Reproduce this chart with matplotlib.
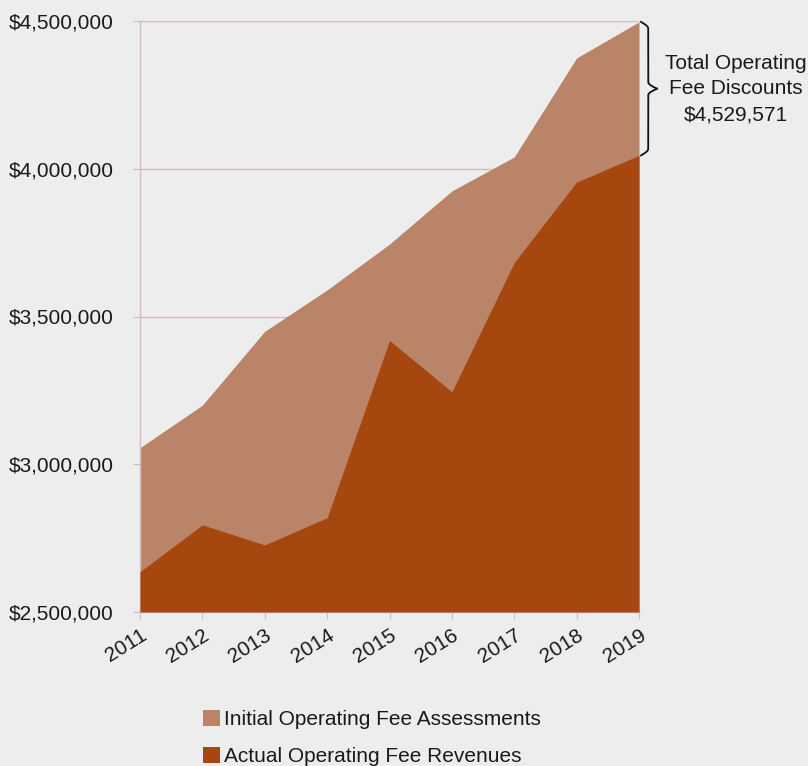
import matplotlib
matplotlib.use("Agg")
import matplotlib.pyplot as plt
import numpy as np
from matplotlib.patches import Patch

years = [2011, 2012, 2013, 2014, 2015, 2016, 2017, 2018, 2019]
initial = [3056000, 3200000, 3450000, 3590000, 3745000, 3925000, 4040000, 4375000, 4497000]
actual = [2636000, 2795000, 2727000, 2819000, 3419000, 3245000, 3683000, 3955000, 4045000]
ytick_vals = [2500000, 3000000, 3500000, 4000000, 4500000]
ytick_labels = ["$2,500,000", "$3,000,000", "$3,500,000", "$4,000,000", "$4,500,000"]
legend_labels = ["Initial Operating Fee Assessments", "Actual Operating Fee Revenues"]
annot_text = "Total Operating\nFee Discounts\n$4,529,571"

c_light = "#b98468"
c_dark = "#a6470f"
bg = "#ededed"
gridc = "#d2bdb8"

plt.rcParams['font.family'] = ['Liberation Sans', 'DejaVu Sans']

fig = plt.figure(figsize=(8.08, 7.66), dpi=100, facecolor=bg)
ax = fig.add_axes([140/808, 1-612/766, 499/808, 591/766])
ax.set_facecolor(bg)

ax.fill_between(years, ytick_vals[0], initial, color=c_light, linewidth=0, zorder=2)
ax.fill_between(years, ytick_vals[0], actual, color=c_dark, linewidth=0, zorder=3)

ax.set_xlim(years[0], years[-1])
ax.set_ylim(ytick_vals[0], ytick_vals[-1])
ax.set_yticks(ytick_vals)
ax.set_yticklabels(ytick_labels, fontsize=15, color="#1a1a1a")
ax.set_xticks(years)
ax.set_xticklabels([str(y) for y in years], rotation=32, ha="right", rotation_mode="anchor",
                   fontsize=15, color="#1a1a1a")
ax.yaxis.grid(True, color=gridc, linewidth=1, zorder=1)
ax.set_axisbelow(True)
for s in ["top", "right"]:
    ax.spines[s].set_visible(False)
for s in ["left", "bottom"]:
    ax.spines[s].set_color(gridc)
    ax.spines[s].set_linewidth(1)
ax.tick_params(axis="y", length=5, color=gridc, pad=14)
ax.tick_params(axis="x", length=5, color=gridc, pad=5)

# curly brace spanning the 2019 gap
trans = ax.transData
x_end = years[-1]
p_top = trans.transform((x_end, initial[-1]))
p_bot = trans.transform((x_end, actual[-1]))
inv = fig.transFigure.inverted()
x0 = p_top[0] + 2
ytop, ybot = p_top[1], p_bot[1]
ymid = (ytop + ybot) / 2
w = 16
t = np.linspace(0, 1, 200)
def half(y_a, y_b):
    xs = []
    ys = []
    for tt in t:
        y = y_a + (y_b - y_a) * tt
        if tt < 0.1:
            s = tt / 0.1
            x = x0 + (w * 0.45) * np.sin(s * np.pi / 2)
        elif tt < 0.9:
            x = x0 + w * 0.45
        else:
            s = (tt - 0.9) / 0.1
            x = x0 + w * 0.45 + (w * 0.55) * (1 - np.cos(s * np.pi / 2))
        xs.append(x); ys.append(y)
    return np.array(xs), np.array(ys)
for ya in (ytop, ybot):
    xs, ys = half(ya, ymid)
    pts = inv.transform(np.column_stack([xs, ys]))
    fig.add_artist(plt.Line2D(pts[:, 0], pts[:, 1], color="#111111", linewidth=1.3))

fig.text(736/808, 1-89/766, annot_text, ha="center", va="center", fontsize=15,
         color="#1a1a1a", linespacing=1.45)

handles = [Patch(facecolor=c_light, edgecolor="none"), Patch(facecolor=c_dark, edgecolor="none")]
fig.legend(handles, legend_labels, loc="center", bbox_to_anchor=(372/808, 1-738/766),
           frameon=False, fontsize=15, handlelength=0.8, handleheight=0.8,
           handletextpad=0.2, labelspacing=0.85, labelcolor="#1a1a1a")

fig.savefig("out.png", dpi=100, facecolor=bg)
